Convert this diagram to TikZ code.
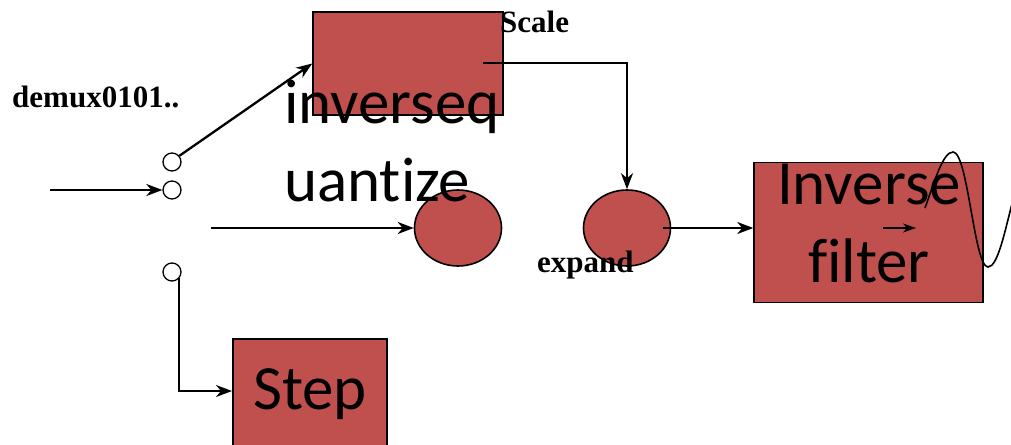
\documentclass[tikz,border=0pt]{standalone}
\usepackage{fontspec}
\setmainfont{Liberation Serif}
\newfontfamily\bodysans[Ligatures=NoCommon]{Carlito}
\usetikzlibrary{arrows.meta,shapes.geometric}
\definecolor{blockred}{HTML}{C0504D}
\begin{document}
\begin{tikzpicture}[x=1pt,y=-1pt,
  block/.style={draw=black,line width=1.5pt,fill=blockred,inner sep=0pt},
  blob/.style={ellipse,draw=black,line width=1.6pt,fill=blockred,inner sep=0pt,minimum width=87pt,minimum height=76pt},
  port/.style={circle,draw=black,line width=1.3pt,fill=white,inner sep=0pt,minimum size=18pt},
  arr/.style={line width=2.3pt,-{Stealth[length=16pt,width=12pt,inset=5pt]}},
  big/.style={font=\bodysans\fontsize{63}{78}\selectfont,inner sep=0pt},
  tag/.style={font=\bfseries\fontsize{31}{36}\selectfont,inner sep=0pt}]
\clip (0,0) rectangle (1011,444);
\fill[white] (0,0) rectangle (1011,444);

% blocks
\node[block,minimum width=190pt,minimum height=103pt] (quant) at (408,63.5) {};
\node[block,minimum width=229pt,minimum height=140pt] (filt) at (868.5,232.5) {};
\node[block,minimum width=154pt,minimum height=122pt] (step) at (310,400) {};

% ellipses
\node[blob] (e1) at (458,228) {};
\node[blob] (e2) at (627,228) {};

% switch contacts
\node[port] (c1) at (172,162) {};
\node[port] (c2) at (172,190) {};
\node[port] (c3) at (172,272) {};

% free ends
\coordinate (inp) at (50,190);
\coordinate (mid) at (211,228);
\coordinate (sc) at (483,63);
\coordinate (ex) at (663,228);
\coordinate (stin) at (232,391);
\coordinate (ia) at (883,228);
\coordinate (ib) at (916,228);

% connectors
\draw[arr] (inp) -- (c2.west);
\draw[arr] (c1.40) -- (quant.west);
\draw[arr] (mid) -- (e1.west);
\draw[arr] (sc) -| (e2.north);
\draw[arr] (ex) -- (ex -| filt.west);
\draw[line width=1.8pt,-{Stealth[length=16pt,width=12pt,inset=5pt]}] (c3.320) |- (stin);
\draw[line width=1.8pt,-{Stealth[length=13pt,width=9pt,inset=4pt]}] (ia) -- (ib);

% wave
\draw[line width=1.6pt] (925,208) .. controls (935,180) and (943,152) .. (953,152)
  .. controls (968,152) and (974,267) .. (988,267)
  .. controls (998,267) and (1005,230) .. (1013,200);

% texts
\node[big,align=left,anchor=north west] (qt) at (284,80) {inverseq\\uantize};
\node[big,align=center] (ft) at (869,224) {Inverse\\filter};
\node[big] (stt) at (310,394) {Step};
\node[tag,anchor=base west] (dm) at (12,107) {demux0101..};
\node[tag,anchor=base west] (scl) at (500,33) {Scale};
\node[tag,anchor=base west] (exp) at (537,272) {expand};
\end{tikzpicture}
\end{document}
